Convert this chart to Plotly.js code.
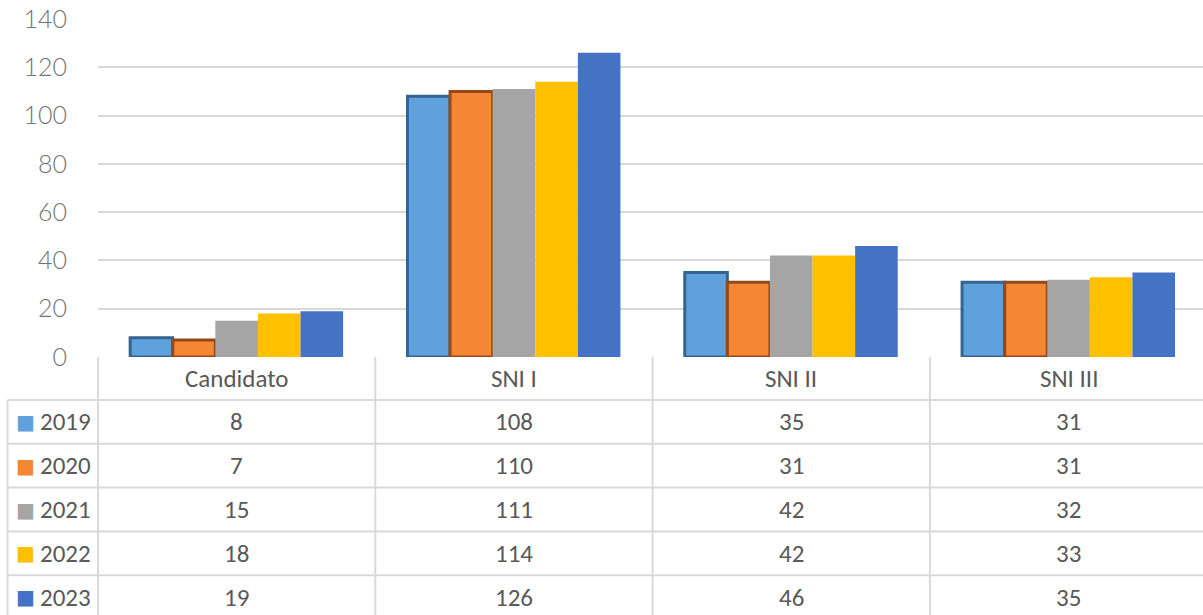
<!DOCTYPE html>
<html><head><meta charset="utf-8">
<script src="https://cdn.plot.ly/plotly-3.0.1.min.js"></script>
<style>body{margin:0;padding:0;background:#fff}#chart{width:1203px;height:615px}</style>
</head><body><div id="chart"></div>
<script>
const categories = ["Candidato", "SNI I", "SNI II", "SNI III"];
const seriesNames = ["2019", "2020", "2021", "2022", "2023"];
const v2019 = [8, 108, 35, 31];
const v2020 = [7, 110, 31, 31];
const v2021 = [15, 111, 42, 32];
const v2022 = [18, 114, 42, 33];
const v2023 = [19, 126, 46, 35];
const yTicks = [0, 20, 40, 60, 80, 100, 120, 140];

const values = [v2019, v2020, v2021, v2022, v2023];
const colors = ["#5ea1dc", "#f58634", "#a5a5a5", "#ffc000", "#4472c4"];
const edge = ["#35648f", "#93491a", null, null, null];

const W = 1203, H = 615;
const plotL = 98, plotT = 19, plotB = 357;
const plotH = plotB - plotT;
const rowH = 43.8;
const headerBottom = 400;
const py = p => (plotB - p) / plotH;   // pixel y -> paper y
const pxPaper = p => (p - plotL) / (W - plotL);

const traces = values.map((vals, i) => ({
  type: "bar",
  name: seriesNames[i],
  x: categories,
  y: vals,
  marker: {color: colors[i], line: edge[i] ? {color: edge[i], width: 3} : {width: 0}},
  hoverinfo: "skip",
  showlegend: false
}));

const grey = "#d9d9d9";
const textColor = "#595959";
const tableFont = {family: "Carlito, Lato, 'Noto Sans', sans-serif", size: 25, color: textColor};

const annotations = [];
const shapes = [];
categories.forEach((c, j) => {
  annotations.push({xref: "x", yref: "paper", x: c, y: py((plotB + headerBottom) / 2),
    text: c, showarrow: false, font: tableFont, xanchor: "center", yanchor: "middle"});
});
values.forEach((vals, i) => {
  const yc = py(headerBottom + rowH * (i + 0.5));
  annotations.push({xref: "paper", yref: "paper", x: pxPaper(25), y: yc, xanchor: "center", yanchor: "middle",
    text: "■", showarrow: false, font: {family: "'DejaVu Sans', sans-serif", size: 20, color: colors[i]}});
  annotations.push({xref: "paper", yref: "paper", x: pxPaper(38), y: yc, xanchor: "left", yanchor: "middle",
    text: seriesNames[i], showarrow: false, font: tableFont});
  vals.forEach((v, j) => {
    annotations.push({xref: "x", yref: "paper", x: categories[j], y: yc,
      text: String(v), showarrow: false, font: tableFont, xanchor: "center", yanchor: "middle"});
  });
  shapes.push({type: "line", xref: "paper", yref: "paper", x0: pxPaper(7.5), x1: 1,
    y0: py(headerBottom + rowH * i), y1: py(headerBottom + rowH * i), line: {color: grey, width: 2}});
});
shapes.push({type: "line", xref: "paper", yref: "paper", x0: 0, x1: 0, y0: 0, y1: py(H + 5), line: {color: grey, width: 2}});
shapes.push({type: "line", xref: "paper", yref: "paper", x0: pxPaper(7.5), x1: pxPaper(7.5), y0: py(headerBottom), y1: py(H + 5), line: {color: grey, width: 2}});
for (let k = 0; k < categories.length - 1; k++) {
  shapes.push({type: "line", xref: "x", yref: "paper", x0: k + 0.5, x1: k + 0.5, y0: 0, y1: py(H + 5), line: {color: grey, width: 2}});
}

const catW = 277.3;
const layout = {
  width: W, height: H,
  margin: {l: plotL, r: 0, t: plotT, b: H - plotB, pad: 0},
  paper_bgcolor: "#ffffff", plot_bgcolor: "#ffffff",
  barmode: "group", bargap: 0.232, bargroupgap: 0,
  xaxis: {range: [-0.5, -0.5 + (W - plotL) / catW], showticklabels: false, showgrid: false, zeroline: false, showline: false, fixedrange: true},
  yaxis: {range: [0, 140], tickvals: yTicks, showgrid: true, gridcolor: grey, gridwidth: 2, zeroline: false, showline: false,
    ticks: "outside", ticklen: 25, tickcolor: "rgba(0,0,0,0)",
    tickfont: {family: "Lato, 'Noto Sans', sans-serif", size: 25, color: "#737373", weight: 300}, fixedrange: true},
  annotations: annotations,
  shapes: shapes
};

Plotly.newPlot("chart", traces, layout, {displayModeBar: false, staticPlot: true});
</script>
</body></html>
